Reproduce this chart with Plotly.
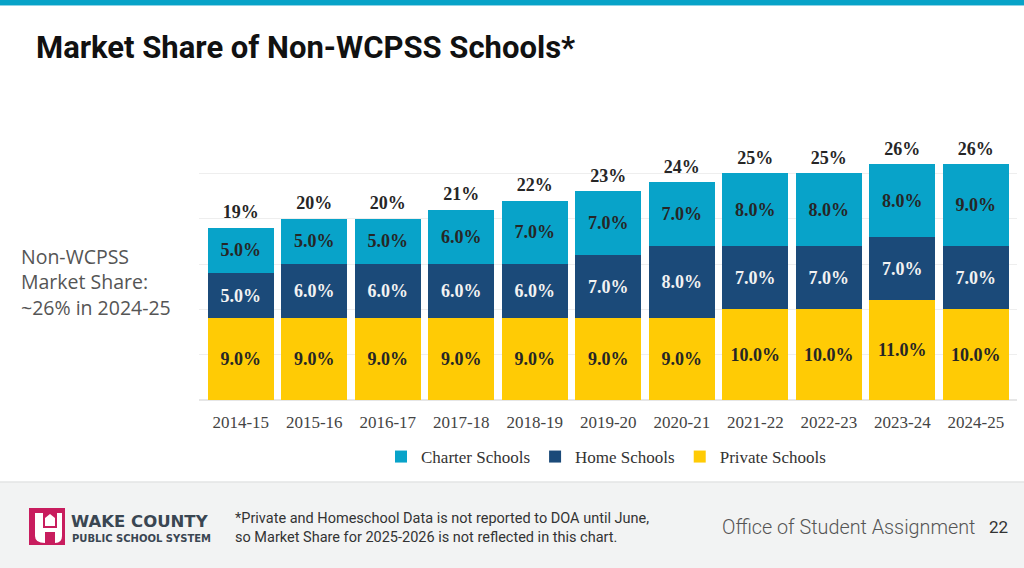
import plotly.graph_objects as go

years = ["2014-15", "2015-16", "2016-17", "2017-18", "2018-19", "2019-20",
         "2020-21", "2021-22", "2022-23", "2023-24", "2024-25"]
private = [9, 9, 9, 9, 9, 9, 9, 10, 10, 11, 10]
home = [5, 6, 6, 6, 6, 7, 8, 7, 7, 7, 7]
charter = [5, 5, 5, 6, 7, 7, 7, 8, 8, 8, 9]
totals = [19, 20, 20, 21, 22, 23, 24, 25, 25, 26, 26]

C_CHARTER = "#08A3C9"
C_HOME = "#1B4A79"
C_PRIVATE = "#FFCB05"

W, H = 1024, 568
def px(x):
    return x / W
def py(y):
    return 1 - y / H

label_font = dict(family="Liberation Serif", size=18, color="#262626", weight="bold")

fig = go.Figure()
fig.add_trace(go.Bar(
    name="Private Schools", x=years, y=private, marker=dict(color=C_PRIVATE, line_width=0),
    text=[f"{v:.1f}%" for v in private], textposition="inside", insidetextanchor="middle",
    textangle=0, textfont=label_font, hoverinfo="skip"))
fig.add_trace(go.Bar(
    name="Home Schools", x=years, y=home, marker=dict(color=C_HOME, line_width=0),
    text=[f"{v:.1f}%" for v in home], textposition="inside", insidetextanchor="middle",
    textangle=0, textfont=dict(family="Liberation Serif", size=18, color="#F2F2F2", weight="bold"),
    hoverinfo="skip"))
fig.add_trace(go.Bar(
    name="Charter Schools", x=years, y=charter, marker=dict(color=C_CHARTER, line_width=0),
    text=[f"{v:.1f}%" for v in charter], textposition="inside", insidetextanchor="middle",
    textangle=0, textfont=label_font, hoverinfo="skip"))
fig.add_trace(go.Scatter(
    x=years, y=totals, mode="markers+text", text=[f"{v}%" for v in totals],
    marker=dict(size=6, opacity=0),
    textposition="top center", textfont=label_font, showlegend=False, hoverinfo="skip"))

shapes = [
    dict(type="rect", xref="paper", yref="paper", x0=0, x1=1, y0=py(5), y1=1,
         fillcolor="#07A3C8", line_width=0, layer="below"),
    dict(type="rect", xref="paper", yref="paper", x0=0, x1=1, y0=py(6), y1=py(5),
         fillcolor="#8ED3E6", line_width=0, layer="below"),
    dict(type="rect", xref="paper", yref="paper", x0=0, x1=1, y0=0, y1=py(482),
         fillcolor="#F2F3F3", line_width=0, layer="below"),
    dict(type="line", xref="paper", yref="paper", x0=0, x1=1, y0=py(482), y1=py(482),
         line=dict(color="#E3E5E5", width=1.5), layer="below"),
    dict(type="rect", xref="paper", yref="paper", x0=px(29), x1=px(65), y0=py(545), y1=py(508),
         fillcolor="#C81D5E", line_width=0),
    dict(type="path", xref="paper", yref="paper",
         path=(f"M {px(35)},{py(513)} L {px(43)},{py(513)} L {px(43)},{py(528)} "
               f"L {px(57)},{py(528)} L {px(57)},{py(513)} L {px(62)},{py(513)} "
               f"L {px(62)},{py(536)} Q {px(62)},{py(543)} {px(55)},{py(543)} "
               f"L {px(55)},{py(532)} L {px(45)},{py(532)} L {px(45)},{py(543)} "
               f"Q {px(35)},{py(543)} {px(35)},{py(536)} Z"),
         fillcolor="white", line_width=0),
    dict(type="path", xref="paper", yref="paper",
         path=(f"M {px(45)},{py(526)} L {px(45)},{py(518)} L {px(50)},{py(514)} "
               f"L {px(55)},{py(518)} L {px(55)},{py(526)} Z"),
         fillcolor="white", line_width=0),
]

annotations = [
    dict(text="<b>Market Share of Non-WCPSS Schools*</b>", x=px(34), y=py(47),
         xref="paper", yref="paper", xanchor="left", yanchor="middle", showarrow=False,
         font=dict(family="Roboto", size=31, color="#111111")),
    dict(text="Non-WCPSS<br>Market Share:<br>~26% in 2024-25", x=px(19), y=py(282),
         xref="paper", yref="paper", xanchor="left", yanchor="middle", align="left",
         showarrow=False, font=dict(family="Open Sans", size=19.5, color="#555555")),
    dict(text="<b>WAKE COUNTY</b>", x=px(69), y=py(521), xref="paper", yref="paper",
         xanchor="left", yanchor="middle", showarrow=False,
         font=dict(family="DejaVu Sans", size=16.5, color="#3A4652")),
    dict(text="<b>PUBLIC SCHOOL SYSTEM</b>", x=px(70), y=py(538), xref="paper", yref="paper",
         xanchor="left", yanchor="middle", showarrow=False,
         font=dict(family="DejaVu Sans", size=10, color="#3A4652")),
    dict(text="*Private and Homeschool Data is not reported to DOA until June,<br>"
              "so Market Share for 2025-2026 is not reflected in this chart.",
         x=px(233), y=py(528), xref="paper", yref="paper", xanchor="left", yanchor="middle",
         align="left", showarrow=False,
         font=dict(family="Roboto", size=14.5, color="#333333")),
    dict(text="Office of Student Assignment", x=px(720), y=py(527), xref="paper", yref="paper",
         xanchor="left", yanchor="middle", showarrow=False,
         font=dict(family="Roboto", size=19.8, color="#555555", weight=300)),
    dict(text="22", x=px(987), y=py(527), xref="paper", yref="paper",
         xanchor="left", yanchor="middle", showarrow=False,
         font=dict(family="Roboto", size=17, color="#333333")),
]

fig.update_layout(
    width=W, height=H, margin=dict(l=0, r=0, t=0, b=0),
    paper_bgcolor="white", plot_bgcolor="white",
    barmode="stack", bargap=0.10,
    showlegend=True,
    legend=dict(orientation="h", x=px(606), xanchor="center", y=py(457), yanchor="middle",
                traceorder="reversed", font=dict(family="Liberation Serif", size=17, color="#333333"),
                itemwidth=30, bgcolor="rgba(0,0,0,0)"),
    xaxis=dict(domain=[px(199), px(1017)], range=[-0.568, 10.56], showgrid=False,
               showline=False, zeroline=False, ticks="", ticklabelstandoff=10,
               tickfont=dict(family="Liberation Serif", size=17, color="#444444")),
    yaxis=dict(domain=[py(400), py(128)], range=[0, 30], dtick=5, showgrid=True,
               gridcolor="#EEEEEE", gridwidth=1, showticklabels=False, zeroline=True,
               zerolinecolor="#E6E6E6", showline=False, ticks=""),
    shapes=shapes, annotations=annotations,
)

fig.write_html("out.html")
